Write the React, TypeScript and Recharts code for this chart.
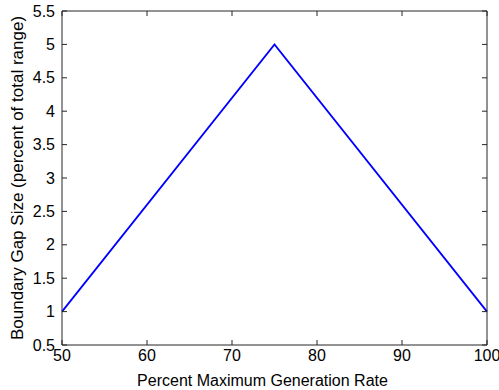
import { Label, Line, LineChart, XAxis, YAxis } from "recharts"

const rates = [50, 75, 100]
const gapSizes = [1, 5, 1]
const xTicks = [50, 60, 70, 80, 90, 100]
const yTicks = [0.5, 1, 1.5, 2, 2.5, 3, 3.5, 4, 4.5, 5, 5.5]

const data = rates.map((rate, i) => ({ rate, gap: gapSizes[i] }))

const font = "'Liberation Sans', Arial, sans-serif"
const axisColor = "#262626"
const tickStyle = { fontSize: 16, fill: "#000", fontFamily: font }

export default function App() {
  return (
    <div style={{ position: "absolute", left: 0, top: 0, background: "#fff" }}>
      <LineChart
        width={499}
        height={390}
        data={data}
        margin={{ top: 10, right: 11, left: 0, bottom: 0 }}
      >
        <XAxis
          dataKey="rate"
          type="number"
          domain={[50, 100]}
          ticks={xTicks}
          height={45}
          tickSize={-5}
          tickMargin={10}
          tick={tickStyle}
          stroke={axisColor}
          interval={0}
        >
          <Label
            value="Percent Maximum Generation Rate"
            position="insideBottom"
            offset={4}
            dx={-12}
            style={{ fontSize: 16, fill: "#000", fontFamily: font }}
          />
        </XAxis>
        <XAxis
          xAxisId="top"
          orientation="top"
          dataKey="rate"
          type="number"
          domain={[50, 100]}
          ticks={xTicks}
          height={1}
          tickSize={-5}
          tick={() => <g />}
          stroke={axisColor}
          interval={0}
        />
        <YAxis
          type="number"
          domain={[0.5, 5.5]}
          ticks={yTicks}
          width={62}
          tickSize={-5}
          tickMargin={12}
          tick={tickStyle}
          stroke={axisColor}
          interval={0}
        >
          <Label
            value="Boundary Gap Size (percent of total range)"
            position="insideLeft"
            angle={-90}
            offset={17}
            style={{ fontSize: 17, fill: "#000", fontFamily: font, textAnchor: "middle" }}
          />
        </YAxis>
        <YAxis
          yAxisId="right"
          orientation="right"
          type="number"
          domain={[0.5, 5.5]}
          ticks={yTicks}
          width={1}
          tickSize={-5}
          tick={() => <g />}
          stroke={axisColor}
          interval={0}
        />
        <Line
          xAxisId="top"
          yAxisId="right"
          dataKey="gap"
          stroke="none"
          dot={false}
          legendType="none"
          isAnimationActive={false}
        />
        <Line
          dataKey="gap"
          stroke="#0000ff"
          strokeWidth={1.8}
          dot={false}
          isAnimationActive={false}
        />
      </LineChart>
    </div>
  )
}
